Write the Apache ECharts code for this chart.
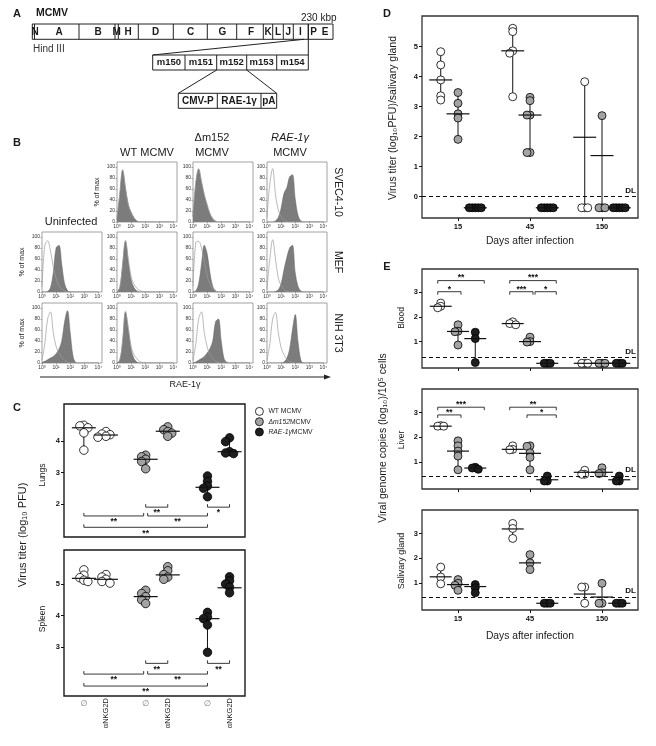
<!DOCTYPE html>
<html>
<head>
<meta charset="utf-8">
<script src="https://cdn.jsdelivr.net/npm/echarts@6/dist/echarts.min.js"></script>
<style>
html, body { margin: 0; padding: 0; background: #fff; }
#chart { width: 656px; height: 746px; }
</style>
</head>
<body>
<div id="chart"></div>
<script>
const FONT = '"Liberation Sans", Arial, "DejaVu Sans", sans-serif';

// ---------- A: genome map ----------
const mapLabels = ['N', 'A', 'B', 'M', 'H', 'D', 'C', 'G', 'F', 'K', 'L', 'J', 'I', 'P', 'E'];
const geneLabels = ['m150', 'm151', 'm152', 'm153', 'm154'];
const cassetteLabels = ['CMV-P', 'RAE-1γ', 'pA'];

// ---------- B: flow histograms (% of max at log10 0..4, step 0.2) ----------
const histX = [0, 0.2, 0.4, 0.6, 0.8, 1, 1.2, 1.4, 1.6, 1.8, 2, 2.2, 2.4, 2.6, 2.8, 3, 3.2, 3.4, 3.6, 3.8, 4];
const histTicks = [0, 1, 2, 3, 4];
const pctTicks = [0, 20, 40, 60, 80, 100];
const histColumns = ['Uninfected', 'WT MCMV', 'Δm152 MCMV', 'RAE-1γ MCMV'];
const histRowsNames = ['SVEC4-10', 'MEF', 'NIH 3T3'];
// SVEC4-10: WT, Δm152, RAE-1γ
const svecFill = [
  [5, 50, 94, 62, 32, 18, 8, 2, 0, 0, 0, 0, 0, 0, 0, 0, 0, 0, 0, 0, 0],
  [10, 70, 96, 72, 48, 30, 14, 5, 1, 0, 0, 0, 0, 0, 0, 0, 0, 0, 0, 0, 0],
  [0, 0, 0, 2, 8, 25, 52, 62, 82, 86, 42, 12, 2, 0, 0, 0, 0, 0, 0, 0, 0]
];
const svecOpen = [
  [5, 52, 95, 60, 30, 16, 7, 2, 0, 0, 0, 0, 0, 0, 0, 0, 0, 0, 0, 0, 0],
  [10, 72, 97, 74, 50, 32, 16, 7, 2, 0, 0, 0, 0, 0, 0, 0, 0, 0, 0, 0, 0],
  [8, 70, 97, 50, 22, 10, 4, 1, 0, 0, 0, 0, 0, 0, 0, 0, 0, 0, 0, 0, 0]
];
// MEF: uninfected, WT, Δm152, RAE-1γ
const mefFill = [
  [0, 0, 1, 8, 35, 80, 85, 50, 15, 3, 0, 0, 0, 0, 0, 0, 0, 0, 0, 0, 0],
  [0, 8, 50, 92, 55, 22, 8, 2, 0, 0, 0, 0, 0, 0, 0, 0, 0, 0, 0, 0, 0],
  [0, 2, 15, 50, 85, 70, 35, 10, 2, 0, 0, 0, 0, 0, 0, 0, 0, 0, 0, 0, 0],
  [0, 0, 0, 1, 4, 15, 40, 62, 80, 85, 35, 10, 2, 0, 0, 0, 0, 0, 0, 0, 0]
];
const mefOpen = [
  [10, 85, 93, 75, 45, 25, 12, 5, 2, 0, 0, 0, 0, 0, 0, 0, 0, 0, 0, 0, 0],
  [0, 8, 50, 94, 60, 28, 14, 7, 3, 1, 0, 0, 0, 0, 0, 0, 0, 0, 0, 0, 0],
  [10, 90, 92, 80, 55, 30, 15, 6, 2, 0, 0, 0, 0, 0, 0, 0, 0, 0, 0, 0, 0],
  [5, 60, 95, 60, 25, 12, 5, 2, 0, 0, 0, 0, 0, 0, 0, 0, 0, 0, 0, 0, 0]
];
// NIH 3T3: uninfected, WT, Δm152, RAE-1γ
const nihFill = [
  [1, 3, 6, 9, 12, 17, 25, 40, 75, 95, 55, 12, 1, 0, 0, 0, 0, 0, 0, 0, 0],
  [0, 5, 40, 92, 60, 25, 8, 2, 0, 0, 0, 0, 0, 0, 0, 0, 0, 0, 0, 0, 0],
  [0, 2, 5, 8, 12, 18, 26, 40, 75, 80, 40, 8, 1, 0, 0, 0, 0, 0, 0, 0, 0],
  [0, 0, 0, 0, 0, 0, 2, 8, 25, 60, 88, 38, 5, 0, 0, 0, 0, 0, 0, 0, 0]
];
const nihOpen = [
  [5, 35, 80, 93, 55, 30, 18, 10, 5, 2, 0, 0, 0, 0, 0, 0, 0, 0, 0, 0, 0],
  [0, 5, 40, 94, 65, 30, 15, 8, 3, 1, 0, 0, 0, 0, 0, 0, 0, 0, 0, 0, 0],
  [5, 35, 80, 93, 55, 30, 15, 8, 3, 1, 0, 0, 0, 0, 0, 0, 0, 0, 0, 0, 0],
  [5, 35, 80, 92, 55, 28, 15, 7, 3, 1, 0, 0, 0, 0, 0, 0, 0, 0, 0, 0, 0]
];

// ---------- C: virus titer, groups WT ∅/α, Δm152 ∅/α, RAE-1γ ∅/α ----------
const strainNames = ['WT MCMV', 'Δm152MCMV', 'RAE-1γMCMV'];
const treatLabels = ['∅', 'αNKG2D', '∅', 'αNKG2D', '∅', 'αNKG2D'];
const lungsValues = [
  [4.5, 4.48, 4.42, 4.26, 3.71],
  [4.3, 4.22, 4.2, 4.15, 4.12],
  [3.55, 3.5, 3.42, 3.35, 3.12],
  [4.45, 4.36, 4.3, 4.25, 4.15],
  [2.89, 2.72, 2.57, 2.5, 2.23],
  [4.1, 3.98, 3.66, 3.62, 3.6]
];
const lungsCenters = [4.42, 4.19, 3.42, 4.31, 2.53, 3.66];
const spleenValues = [
  [5.45, 5.28, 5.2, 5.12, 5.08],
  [5.3, 5.22, 5.15, 5.08, 5.03],
  [4.8, 4.7, 4.6, 4.5, 4.38],
  [5.55, 5.42, 5.3, 5.22, 5.15],
  [4.1, 3.95, 3.9, 3.7, 2.83],
  [5.23, 5.1, 5.0, 4.9, 4.72]
];
const spleenCenters = [5.18, 5.15, 4.6, 5.29, 3.9, 4.88];
// [groupA, groupB, level, stars]
const lungsBrackets = [[2, 3, 1.9, '**'], [4, 5, 1.9, '*'], [0, 2, 1.62, '**'], [2, 4, 1.62, '**'], [0, 4, 1.26, '**']];
const spleenBrackets = [[2, 3, 2.48, '**'], [4, 5, 2.48, '**'], [0, 2, 2.14, '**'], [2, 4, 2.14, '**'], [0, 4, 1.76, '**']];

// ---------- D: salivary gland titer by day (WT, Δm152, RAE-1γ per day) ----------
const dayLabels = ['15', '45', '150'];
const glandValues = [
  [4.83, 4.39, 3.89, 3.36, 3.22],
  [3.47, 3.11, 2.76, 2.62, 1.91],
  [-0.37, -0.37, -0.37, -0.37, -0.37],
  [5.61, 5.5, 4.86, 4.78, 3.33],
  [3.31, 3.2, 2.72, 2.72, 1.47, 1.47],
  [-0.37, -0.37, -0.37, -0.37, -0.37],
  [3.83, -0.37, -0.37, -0.37],
  [2.7, -0.37, -0.37, -0.37],
  [-0.37, -0.37, -0.37, -0.37, -0.37]
];
const glandCenters = [3.89, 2.76, -0.37, 4.86, 2.72, -0.37, 1.98, 1.37, -0.37];
const glandDL = 0;

// ---------- E: viral genome copies ----------
const bloodValues = [
  [2.56, 2.43, 2.37], [1.68, 1.42, 1.4, 0.86], [1.38, 1.12, 0.15],
  [1.8, 1.73, 1.68], [1.18, 1.0, 0.98], [0.12, 0.12, 0.12],
  [0.12, 0.12, 0.12], [0.12, 0.12, 0.12], [0.12, 0.12, 0.12]
];
const bloodCenters = [2.43, 1.41, 1.12, 1.73, 1.0, 0.12, 0.12, 0.12, 0.12];
const liverValues = [
  [2.47, 2.45, 2.45], [1.86, 1.66, 1.45, 1.25, 0.7], [0.8, 0.77, 0.72],
  [1.66, 1.52, 1.5], [1.66, 1.64, 1.38, 1.2, 0.7], [0.45, 0.25, 0.25],
  [0.68, 0.52, 0.52], [0.78, 0.58, 0.55], [0.45, 0.25, 0.25]
];
const liverCenters = [2.45, 1.45, 0.77, 1.52, 1.36, 0.3, 0.6, 0.6, 0.3];
const salivaryValues = [
  [1.65, 1.25, 0.98], [1.15, 1.0, 0.92, 0.72], [0.95, 0.82, 0.62],
  [3.4, 3.2, 2.8], [2.15, 1.82, 1.55], [0.2, 0.2, 0.2],
  [0.85, 0.85, 0.2], [1.0, 0.2, 0.2], [0.2, 0.2, 0.2]
];
const salivaryCenters = [1.26, 0.95, 0.87, 3.18, 1.82, 0.2, 0.57, 0.45, 0.2];
const bloodBrackets = [[0, 2, 3.47, '**'], [0, 1, 3.02, '*'], [3, 5, 3.47, '***'], [3, 4, 3.02, '***'], [4, 5, 3.02, '*']];
const liverBrackets = [[0, 2, 3.21, '***'], [0, 1, 2.9, '**'], [3, 5, 3.21, '**'], [4, 5, 2.9, '*']];
const bloodDL = 0.36, liverDL = 0.44, salivaryDL = 0.46;

// ---------- layout ----------
const strainColors = ['#ffffff', '#a3a3a3', '#1e1e1e'];
const cPos = [0.9, 1.9, 3.7, 4.7, 6.5, 7.5];
const dayOffset = [-0.24, 0, 0.24];
const sup = ['⁰', '¹', '²', '³', '⁴'];

const myChart = echarts.init(document.getElementById('chart'));
const grids = [], xAxes = [], yAxes = [], series = [];

function addGrid(g, xa, ya) {
  grids.push(Object.assign({ show: true, outerBoundsMode: 'none' }, g));
  const i = grids.length - 1;
  xAxes.push(Object.assign({ gridIndex: i, type: 'value', splitLine: { show: false } }, xa));
  yAxes.push(Object.assign({ gridIndex: i, type: 'value', splitLine: { show: false } }, ya));
  return i;
}

const noLine = { show: false, onZero: false };
const boldTick = (vals, extra) => Object.assign({
  customValues: vals, fontSize: 7.5, fontWeight: 'bold', color: '#111', fontFamily: FONT, margin: 4
}, extra || {});
const tickStyle = vals => ({ customValues: vals, length: 3, lineStyle: { color: '#111', width: 1 } });

// histograms
const histColLeft = [42, 117, 193, 267];
const histRowTop = [162, 232, 303];
const histRows = [
  { fill: svecFill, open: svecOpen, cols: [1, 2, 3] },
  { fill: mefFill, open: mefOpen, cols: [0, 1, 2, 3] },
  { fill: nihFill, open: nihOpen, cols: [0, 1, 2, 3] }
];
histRows.forEach((row, r) => row.cols.forEach((c, k) => {
  const gi = addGrid(
    { left: histColLeft[c], top: histRowTop[r], width: 60, height: 60, borderColor: '#8a8a8a', borderWidth: 0.8 },
    {
      min: 0, max: 4.25, axisLine: noLine,
      axisTick: { customValues: histTicks, length: 1.5, lineStyle: { color: '#777', width: 0.6 } },
      axisLabel: { customValues: histTicks, formatter: v => '10' + sup[v], fontSize: 5, color: '#333', margin: 2, fontFamily: FONT }
    },
    {
      min: 0, max: 109, axisLine: noLine,
      axisTick: { customValues: pctTicks, length: 1.5, lineStyle: { color: '#777', width: 0.6 } },
      axisLabel: { customValues: pctTicks, fontSize: 5, color: '#333', margin: 2, fontFamily: FONT }
    });
  series.push({
    type: 'line', xAxisIndex: gi, yAxisIndex: gi, silent: true, symbol: 'none', smooth: 0.35, z: 2,
    data: histX.map((x, i) => [x, row.fill[k][i]]),
    lineStyle: { color: '#5e5e5e', width: 0.5 }, areaStyle: { color: '#7c7c7c', opacity: 1 }
  });
  series.push({
    type: 'line', xAxisIndex: gi, yAxisIndex: gi, silent: true, symbol: 'none', smooth: 0.35, z: 3,
    data: histX.map((x, i) => [x, row.open[k][i]]),
    lineStyle: { color: '#9c9c9c', width: 0.7 }
  });
}));

// beeswarm placement in pixels, converted back to axis units
function swarm(vals, cx, pxX, pxY, minD) {
  const placed = [];
  return vals.map(v => {
    for (let k = 0; k < 60; k++) {
      const off = (k % 2 ? -1 : 1) * Math.ceil(k / 2) * minD;
      if (placed.every(p => Math.hypot(p[0] - off, (p[1] - v) * pxY) >= minD - 1e-6)) {
        placed.push([off, v]);
        return [cx + off / pxX, v];
      }
    }
  });
}

function addGroups(gi, values, centers, xOf, strainOf, pxX, pxY, minD, size, halfW, dl) {
  const pts = [[], [], []];
  const ranges = [];
  values.forEach((vals, g) => {
    const cx = xOf(g);
    swarm(vals, cx, pxX, pxY, minD).forEach(p => pts[strainOf(g)].push(p));
    ranges.push([cx, Math.min(...vals), Math.max(...vals), centers[g]]);
  });
  series.push({
    type: 'custom', xAxisIndex: gi, yAxisIndex: gi, silent: true, z: 2, data: ranges,
    encode: { x: 0, y: [1, 2, 3] },
    renderItem: (params, api) => {
      const a = api.coord([api.value(0), api.value(2)]);
      const b = api.coord([api.value(0), api.value(1)]);
      return { type: 'line', shape: { x1: a[0], y1: a[1], x2: b[0], y2: b[1] }, style: { stroke: '#111', lineWidth: 1 } };
    }
  });
  pts.forEach((data, s) => {
    const sr = {
      type: 'scatter', name: strainNames[s], xAxisIndex: gi, yAxisIndex: gi, z: 3, silent: true,
      symbol: 'circle', symbolSize: size, data,
      itemStyle: { color: strainColors[s], borderColor: '#000', borderWidth: 0.8, opacity: 1 }
    };
    if (s === 0 && dl !== undefined) {
      sr.markLine = {
        silent: true, symbol: 'none', animation: false,
        lineStyle: { color: '#111', width: 1, type: [4, 3] },
        label: { show: true, position: 'insideEndTop', formatter: 'DL', fontWeight: 'bold', fontSize: 8, color: '#111', fontFamily: FONT, distance: 2 },
        data: [{ yAxis: dl }]
      };
    }
    series.push(sr);
  });
  series.push({
    type: 'custom', xAxisIndex: gi, yAxisIndex: gi, silent: true, z: 4, data: ranges,
    encode: { x: 0, y: [1, 2, 3] },
    renderItem: (params, api) => {
      const p = api.coord([api.value(0), api.value(3)]);
      return { type: 'line', shape: { x1: p[0] - halfW, y1: p[1], x2: p[0] + halfW, y2: p[1] }, style: { stroke: '#111', lineWidth: 1.2 } };
    }
  });
}

// significance brackets; dir -1: ticks up, stars below; dir 1: ticks down, stars above
function addBrackets(gi, rows, xOf, pxX, dir, pad) {
  const labels = rows.map(r => r[3]);
  const data = rows.map((r, i) => {
    const adjStart = rows.some((q, j) => j !== i && q[1] === r[0] && q[2] === r[2]);
    const adjEnd = rows.some((q, j) => j !== i && q[0] === r[1] && q[2] === r[2]);
    const s = xOf(r[0]) + pad.start(adjStart) / pxX;
    const e = xOf(r[1]) + pad.end(adjEnd, r[1]) / pxX;
    return [s, e, r[2]];
  });
  series.push({
    type: 'custom', xAxisIndex: gi, yAxisIndex: gi, silent: true, z: 5, data,
    encode: { x: [0, 1], y: 2 },
    renderItem: (params, api) => {
      const a = api.coord([api.value(0), api.value(2)]);
      const b = api.coord([api.value(1), api.value(2)]);
      const t = 3 * dir;
      return {
        type: 'group', children: [
          { type: 'polyline', shape: { points: [[a[0], a[1] + t], [a[0], a[1]], [b[0], b[1]], [b[0], b[1] + t]] },
            style: { stroke: '#222', lineWidth: 0.9, fill: null } },
          { type: 'text', style: { x: (a[0] + b[0]) / 2, y: a[1] + (dir < 0 ? 6 : -2.5), text: labels[params.dataIndex],
            align: 'center', verticalAlign: 'middle', fontSize: 8.5, fontWeight: 'bold', fontFamily: FONT, fill: '#111' } }
        ]
      };
    }
  });
}

// C: lungs and spleen
const cX = { min: 0, max: 8.2, axisLine: noLine, axisTick: { show: false }, axisLabel: { show: false } };
const cBorder = { borderColor: '#1a1a1a', borderWidth: 1.4 };
const lungsGrid = addGrid(Object.assign({ left: 64, top: 404, width: 181, height: 133 }, cBorder), cX,
  { min: 0.952, max: 5.175, axisLine: noLine, axisTick: tickStyle([2, 3, 4]), axisLabel: boldTick([2, 3, 4]) });
const spleenGrid = addGrid(Object.assign({ left: 64, top: 550, width: 181, height: 146 }, cBorder),
  {
    min: 0, max: 8.2, axisLine: noLine, axisTick: { show: false },
    axisLabel: {
      customValues: [cPos[1], cPos[3], cPos[5]], rotate: 90, margin: 2, fontSize: 7.5, color: '#222', fontFamily: FONT,
      formatter: v => treatLabels[cPos.indexOf(v)]
    }
  },
  { min: 1.444, max: 6.08, axisLine: noLine, axisTick: tickStyle([3, 4, 5]), axisLabel: boldTick([3, 4, 5]) });

const cxOf = g => cPos[g];
const cStrain = g => Math.floor(g / 2);
addGroups(lungsGrid, lungsValues, lungsCenters, cxOf, cStrain, 181 / 8.2, 133 / 4.223, 4, 8.5, 12);
addGroups(spleenGrid, spleenValues, spleenCenters, cxOf, cStrain, 181 / 8.2, 146 / 4.636, 4, 8.5, 12);
const cPad = { start: adj => (adj ? 2 : 0), end: adj => (adj ? -2 : 0) };
addBrackets(lungsGrid, lungsBrackets, cxOf, 181 / 8.2, -1, cPad);
addBrackets(spleenGrid, spleenBrackets, cxOf, 181 / 8.2, -1, cPad);

// D and E share the day axis
const dayX = g => Math.floor(g / 3) + 1 + dayOffset[g % 3];
const dayStrain = g => g % 3;
const dayAxis = withLabels => ({
  min: 0.5, max: 3.5, axisLine: noLine, axisTick: tickStyle([1, 2, 3]),
  axisLabel: withLabels ? boldTick([1, 2, 3], { formatter: v => dayLabels[v - 1], margin: 5 }) : { show: false }
});
const boxBorder = { borderColor: '#333', borderWidth: 1.3 };

const glandGrid = addGrid(Object.assign({ left: 422, top: 16, width: 216, height: 202 }, boxBorder), dayAxis(true),
  { min: -0.71, max: 6.02, axisLine: noLine, axisTick: tickStyle([0, 1, 2, 3, 4, 5]), axisLabel: boldTick([0, 1, 2, 3, 4, 5]) });
addGroups(glandGrid, glandValues, glandCenters, dayX, dayStrain, 72, 202 / 6.73, 3, 8, 11.5, glandDL);

const eY = { min: -0.07, max: 3.94, axisLine: noLine, axisTick: tickStyle([1, 2, 3]), axisLabel: boldTick([1, 2, 3]) };
const bloodGrid = addGrid(Object.assign({ left: 422, top: 269, width: 216, height: 99 }, boxBorder), dayAxis(false), eY);
const liverGrid = addGrid(Object.assign({ left: 422, top: 389, width: 216, height: 100 }, boxBorder), dayAxis(false), eY);
const salivaryGrid = addGrid(Object.assign({ left: 422, top: 510, width: 216, height: 100 }, boxBorder), dayAxis(true), eY);
addGroups(bloodGrid, bloodValues, bloodCenters, dayX, dayStrain, 72, 99 / 4.01, 3, 8, 11, bloodDL);
addGroups(liverGrid, liverValues, liverCenters, dayX, dayStrain, 72, 100 / 4.01, 3, 8, 11, liverDL);
addGroups(salivaryGrid, salivaryValues, salivaryCenters, dayX, dayStrain, 72, 100 / 4.01, 3, 8, 11, salivaryDL);
const ePad = { start: adj => (adj ? 5 : -3), end: (adj, g) => (g % 3 === 2 ? 9 : 3) };
addBrackets(bloodGrid, bloodBrackets, dayX, 72, 1, ePad);
addBrackets(liverGrid, liverBrackets, dayX, 72, 1, ePad);

// ∅ labels, upright, on a second bottom x axis of the spleen grid (added last so indices stay aligned)
xAxes.push({
  gridIndex: spleenGrid, type: 'value', position: 'bottom', min: 0, max: 8.2, splitLine: { show: false },
  axisLine: noLine, axisTick: { show: false },
  axisLabel: { customValues: [cPos[0], cPos[2], cPos[4]], margin: 4, fontSize: 8, color: '#777', fontFamily: FONT,
    formatter: v => treatLabels[cPos.indexOf(v)] }
});

// ---------- graphic: text and the map diagram ----------
function txt(text, x, y, size, o) {
  o = o || {};
  return {
    type: 'text', x, y, rotation: o.rot || 0, z: 10, silent: true,
    style: {
      x: 0, y: 0, text, align: o.align || 'center', verticalAlign: 'middle', fontSize: size,
      fontWeight: o.bold ? 'bold' : 'normal', fontStyle: o.italic ? 'italic' : 'normal',
      fontFamily: FONT, fill: o.color || '#1a1a1a'
    }
  };
}
const line = (x1, y1, x2, y2, w) => ({ type: 'line', z: 10, silent: true, shape: { x1, y1, x2, y2 }, style: { stroke: '#222', lineWidth: w || 1 } });
const box = (x, y, w, h) => ({ type: 'rect', z: 9, silent: true, shape: { x, y, width: w, height: h }, style: { fill: '#fff', stroke: '#222', lineWidth: 1 } });

const graphics = [];
const up = Math.PI / 2, down = -Math.PI / 2;

// A
const mapLabelX = [35, 59, 98, 116.7, 128, 155.5, 190.5, 222.5, 251, 268, 278, 288.3, 300.5, 313.5, 325];
const mapDividers = [34.5, 79, 115, 118.3, 138.3, 173.3, 207.3, 236.7, 263.3, 272.7, 283.3, 293.3, 308.3];
graphics.push(txt('A', 17, 14, 11, { bold: true }));
graphics.push(txt('MCMV', 36, 13, 10.5, { bold: true, align: 'left' }));
graphics.push(txt('230 kbp', 301, 18, 10, { align: 'left' }));
graphics.push(box(32.3, 24, 300.7, 15.3));
mapDividers.forEach(x => graphics.push(line(x, 24, x, 39.3, x === 308.3 ? 1.4 : 1)));
mapLabels.forEach((t, i) => graphics.push(txt(t, mapLabelX[i], 32, 10, { bold: true })));
graphics.push(txt('Hind III', 33, 49, 10, { align: 'left', color: '#333' }));
graphics.push(line(304, 39.3, 152.7, 55), line(308.3, 39.3, 308.3, 55));
const geneEdges = [152.7, 185, 216.7, 246.7, 276.7, 308.3];
graphics.push(box(152.7, 55, 155.6, 15));
geneEdges.slice(1, -1).forEach(x => graphics.push(line(x, 55, x, 70)));
geneLabels.forEach((t, i) => graphics.push(txt(t, (geneEdges[i] + geneEdges[i + 1]) / 2, 62.8, 9.5, { bold: true })));
graphics.push(line(216.7, 70, 178.3, 93.3), line(246.7, 70, 276.7, 93.3));
const cassetteEdges = [178.3, 217.3, 261, 276.7];
graphics.push(box(178.3, 93.3, 98.4, 15));
cassetteEdges.slice(1, -1).forEach(x => graphics.push(line(x, 93.3, x, 108.3)));
cassetteLabels.forEach((t, i) => graphics.push(txt(t, (cassetteEdges[i] + cassetteEdges[i + 1]) / 2, 101, 10, { bold: true })));

// B
graphics.push(txt('B', 17, 143, 11, { bold: true }));
graphics.push(txt('WT MCMV', 147, 153, 11));
graphics.push(txt('Δm152', 212, 138, 11), txt('MCMV', 212, 153, 11));
graphics.push(txt('RAE-1γ', 290, 138, 11, { italic: true }), txt('MCMV', 290, 153, 11));
graphics.push(txt(histColumns[0], 71, 222, 11));
graphics.push(txt('% of max', 97, 192, 7, { rot: up }), txt('% of max', 22, 262, 7, { rot: up }), txt('% of max', 22, 333, 7, { rot: up }));
graphics.push(txt(histRowsNames[0], 338, 192, 10.5, { rot: down }), txt(histRowsNames[1], 338, 262, 10.5, { rot: down }), txt(histRowsNames[2], 338, 333, 10.5, { rot: down }));
graphics.push(line(40, 377, 326, 377, 1));
graphics.push({ type: 'polygon', z: 10, silent: true, shape: { points: [[331, 377], [324, 374.5], [324, 379.5]] }, style: { fill: '#222' } });
graphics.push(txt('RAE-1γ', 185, 385, 9));

// C
graphics.push(txt('C', 17, 408, 11, { bold: true }));
graphics.push(txt('Virus titer (log₁₀ PFU)', 23, 535, 11, { rot: up }));
graphics.push(txt('Lungs', 43, 475, 8.5, { rot: up }), txt('Spleen', 43, 619, 8.5, { rot: up }));

// D
graphics.push(txt('D', 387, 14, 11, { bold: true }));
graphics.push(txt('Virus titer (log₁₀PFU)/salivary gland', 393, 118, 10.5, { rot: up }));
graphics.push(txt('Days after infection', 530, 241, 10.3));

// E
graphics.push(txt('E', 387, 267, 11, { bold: true }));
graphics.push(txt('Viral genome copies (log₁₀)/10⁵ cells', 383, 438, 10.5, { rot: up }));
graphics.push(txt('Blood', 402, 318, 8.5, { rot: up }), txt('Liver', 402, 440, 8.5, { rot: up }), txt('Salivary gland', 402, 561, 9, { rot: up }));
graphics.push(txt('Days after infection', 530, 636, 10.3));

const option = {
  animation: false,
  backgroundColor: '#fff',
  textStyle: { fontFamily: FONT },
  grid: grids,
  xAxis: xAxes,
  yAxis: yAxes,
  legend: {
    data: strainNames, left: 255, top: 407, orient: 'vertical', itemWidth: 8, itemHeight: 8, itemGap: 1.5,
    padding: 0, selectedMode: false, icon: 'circle',
    itemStyle: { borderColor: '#000', borderWidth: 0.8 },
    formatter: n => (n === 'WT MCMV' ? n : '{i|' + n.replace('MCMV', '') + '}MCMV'),
    textStyle: { fontSize: 6.8, color: '#222', fontFamily: FONT,
      rich: { i: { fontSize: 6.8, fontStyle: 'italic', color: '#222', fontFamily: FONT } } }
  },
  graphic: graphics,
  series
};
myChart.setOption(option);
</script>
</body>
</html>
